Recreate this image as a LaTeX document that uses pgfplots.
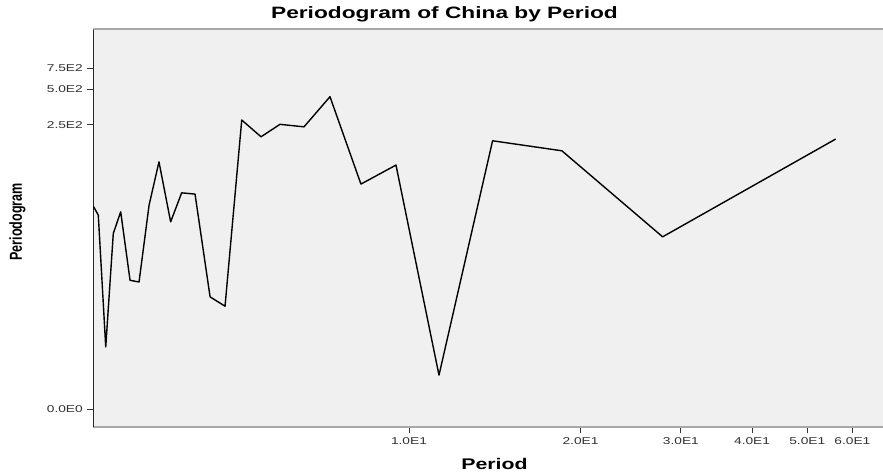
\documentclass[border=0pt]{standalone}
\usepackage{fontspec}
\setmainfont[FakeStretch=1.38]{Liberation Sans}
\newfontfamily\ylabfont{Liberation Sans}
\usepackage{graphicx}
\usepackage{pgfplots}
\pgfplotsset{compat=1.18}
\definecolor{plotbg}{HTML}{F0F0F0}
\definecolor{framegray}{HTML}{A8A8A8}
\definecolor{ticktext}{HTML}{303030}
\begin{document}
\begin{tikzpicture}
\begin{axis}[
  name=ax,
  scale only axis,
  width=789.7bp, height=398.3bp,
  xmode=log,
  xmin=2.793, xmax=67.9,
  ymin=-0.3, ymax=1614,
  y coord trafo/.code={\pgfmathparse{ln(#1+1)}},
  y coord inv trafo/.code={\pgfmathparse{exp(#1)-1}},
  xtick={10,20,30,40,50,60},
  xticklabels={1.0E1,2.0E1,3.0E1,4.0E1,5.0E1,6.0E1},
  ytick={0,250,500,750},
  yticklabels={0.0E0,2.5E2,5.0E2,7.5E2},
  minor xtick={},
  xminorticks=false,
  separate axis lines,
  axis x line*=bottom,
  axis y line*=left,
  x axis line style={draw=framegray, line width=2.2bp, -},
  y axis line style={draw=black!85, line width=1.1bp, -},
  tick align=outside,
  major tick length=6bp,
  tick style={draw=black!80, line width=0.8bp},
  axis background/.style={fill=plotbg},
  ticklabel style={font=\fontsize{10}{12}\selectfont, text=ticktext},
  xticklabel style={yshift=-1bp},
  yticklabel style={xshift=-1bp},
  title={Periodogram of China by Period},
  title style={at={(0.4447,1)}, anchor=base, yshift=5bp, font=\fontsize{16.5}{18}\selectfont\bfseries},
  xlabel={Period},
  xlabel style={at={(0.508,0)}, anchor=base, yshift=-41.7bp, font=\fontsize{15.5}{17}\selectfont\bfseries},
  ylabel={\scalebox{1}[1.38]{\ylabfont\fontsize{12.6}{14}\selectfont\bfseries Periodogram}},
  ylabel style={at={(-0.096,0.516)}, anchor=center},
  clip=true,
]
\addplot[black, line width=1.4bp, line join=round] coordinates {
  (2.793,50.6) (2.850,42.3) (2.937,2.34) (3.028,29.3) (3.120,45.2)
  (3.240,11.2) (3.360,10.8) (3.499,51.6) (3.642,121) (3.818,37)
  (3.992,65.8) (4.213,64.2) (4.477,7.84) (4.756,6.37) (5.088,274)
  (5.501,197.7) (5.938,252) (6.544,240) (7.268,432) (8.236,78.2)
  (9.489,113.6) (11.29,0.93) (14.02,182.8) (18.55,150.3) (27.87,27.4)
  (56.07,189)
};
\draw[framegray, line width=2.2bp] (rel axis cs:0,1) -- (rel axis cs:1,1);
\end{axis}
\pgfresetboundingbox
\path[use as bounding box] ([xshift=-93.3bp,yshift=-44.7bp]ax.south west) rectangle ([yshift=29bp]ax.north east);
\end{tikzpicture}
\end{document}
